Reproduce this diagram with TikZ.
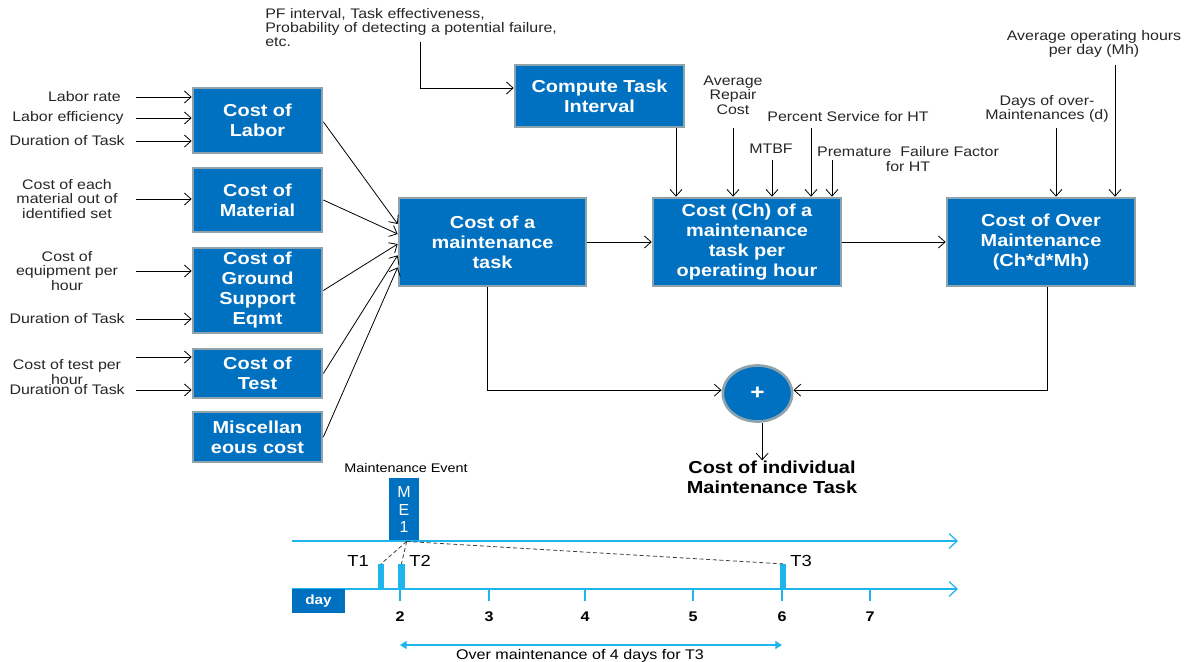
\documentclass[tikz,border=0pt]{standalone}
\usepackage{fontspec}
\setmainfont[FakeStretch=1.15]{Liberation Sans}
\newfontfamily\narrowfont{Liberation Sans}
\usetikzlibrary{arrows.meta,shapes.geometric}
\definecolor{boxblue}{HTML}{0070C0}
\definecolor{boxedge}{HTML}{8FA3AD}
\definecolor{axisblue}{HTML}{1EB4EC}
\definecolor{txtgray}{HTML}{262626}
\begin{document}
\begin{tikzpicture}[x=0.75pt,y=-0.75pt,
  bx/.style={draw=boxedge,line width=2pt,fill=boxblue,text=white,
    font=\fontsize{13}{15}\selectfont\bfseries,align=center,inner sep=0pt,
    minimum width=96.75pt},
  lbl/.style={font=\fontsize{10.4}{11}\selectfont,align=center,inner sep=0pt,text=txtgray},
  arr/.style={-{Straight Barb[length=5pt,width=9pt]},line width=0.6pt},
  ax/.style={-{Straight Barb[length=6pt,width=11pt]},draw=axisblue,line width=0.9pt},
  tbar/.style={fill=axisblue,inner sep=0pt,minimum width=4.6pt,minimum height=18.5pt},
  tick/.style={draw=axisblue,line width=0.8pt},
  tlbl/.style={font=\fontsize{12}{14}\selectfont,inner sep=0pt},
  num/.style={font=\fontsize{10.5}{12}\selectfont\bfseries,inner sep=0pt},
  dsh/.style={densely dashed,line width=0.6pt,draw=black!75}
]
\useasboundingbox (0,0) rectangle (1191,661);

% ---------- left boxes ----------
\node[bx,minimum height=48.75pt] (lab) at (257.5,120.5) {Cost of\\Labor};
\node[bx,minimum height=48pt] (mat) at (257.5,200) {Cost of\\Material};
\node[bx,minimum height=63.75pt] (gse) at (257.5,290.5) {Cost of\\Ground\\Support\\Eqmt};
\node[bx,minimum height=36.75pt] (tst) at (257.5,373.5) {Cost of\\Test};
\node[bx,minimum height=37.5pt] (misc) at (257.5,437) {Miscellan\\eous cost};

% ---------- main boxes ----------
\node[bx,minimum width=140.25pt,minimum height=66pt] (mt) at (492.5,242) {Cost of a\\maintenance\\task};
\node[bx,minimum width=126.75pt,minimum height=46.5pt] (comp) at (599.5,96) {Compute Task\\Interval};
\node[bx,minimum width=141pt,minimum height=66pt] (ch) at (747,242) {Cost (Ch) of a\\maintenance\\task per\\operating hour};
\node[bx,minimum width=141pt,minimum height=66pt] (over) at (1041,242) {Cost of Over\\Maintenance\\(Ch*d*Mh)};
\node[ellipse,draw=boxedge,line width=2pt,fill=boxblue,text=white,minimum width=52pt,minimum height=42pt,inner sep=0pt,
  font=\fontsize{16}{16}\selectfont\bfseries] (plus) at (757.5,393.5) {+};
\node[font=\fontsize{13}{15}\selectfont\bfseries,align=center,inner sep=0pt] (res) at (772,477) {Cost of individual\\Maintenance Task};

% ---------- input labels ----------
\node[lbl,anchor=east] (l1) at (121,97) {Labor rate};
\node[lbl,anchor=east] (l2) at (124,118) {Labor efficiency};
\node[lbl,anchor=east] (l3) at (125,141) {Duration of Task};
\node[lbl] (l4) at (67,199) {Cost of each\\material out of\\identified set};
\node[lbl] (l5) at (67,271) {Cost of\\equipment per\\hour};
\node[lbl,anchor=east] (l6) at (125,319) {Duration of Task};
\node[lbl] (l7) at (67,372) {Cost of test per\\hour};
\node[lbl,anchor=east] (l8) at (125,390) {Duration of Task};

\coordinate (s1) at (136,97);
\coordinate (s2) at (136,118);
\coordinate (s3) at (136,141);
\coordinate (s4) at (136,199);
\coordinate (s5) at (136,271);
\coordinate (s6) at (136,319);
\coordinate (s7) at (136,357);
\coordinate (s8) at (136,390);
\draw[arr] (s1) -- (s1 -| lab.west);
\draw[arr] (s2) -- (s2 -| lab.west);
\draw[arr] (s3) -- (s3 -| lab.west);
\draw[arr] (s4) -- (s4 -| mat.west);
\draw[arr] (s5) -- (s5 -| gse.west);
\draw[arr] (s6) -- (s6 -| gse.west);
\draw[arr] (s7) -- (s7 -| tst.west);
\draw[arr] (s8) -- (s8 -| tst.west);

% ---------- left boxes to maintenance task ----------
\draw[arr] ([yshift=-1pt]lab.east) -- ([yshift=13.5pt]mt.west);
\draw[arr] (mat.east) -- ([yshift=6pt]mt.west);
\draw[arr] (gse.east) -- ([yshift=-1.5pt]mt.west);
\draw[arr] (tst.east) -- ([yshift=-10pt]mt.west);
\draw[arr] (misc.east) -- ([yshift=-19pt]mt.west);

% ---------- top labels ----------
\node[lbl,align=left,anchor=north west,font=\fontsize{10.4}{10.5}\selectfont] (pf) at (265,8) {PF interval, Task effectiveness,\\Probability of detecting a potential failure,\\etc.};
\coordinate (pfs) at (420,42);
\draw[arr] (pfs) |- ([yshift=6pt]comp.west);

\node[lbl] (avg) at (733,95) {Average\\Repair\\Cost};
\node[lbl] (mtbf) at (771,149) {MTBF};
\node[lbl] (pct) at (848,117) {Percent Service for HT};
\node[lbl] (pff) at (908,159) {Premature\ \ Failure Factor\\for HT};
\node[lbl] (days) at (1047,109) {Days of over-\\Maintenances (d)};
\node[lbl] (aoh) at (1094,44) {Average operating hours\\per day (Mh)};

\coordinate (a1) at (733,128);
\coordinate (a2) at (772,160);
\coordinate (a3) at (811,128);
\coordinate (a4) at (832,160);
\coordinate (a5) at (1056,128);
\coordinate (a6) at (1115,65);
\draw[arr] ([xshift=-7pt]comp.south east) -- ([xshift=-7pt]comp.south east |- ch.north);
\draw[arr] (a1) -- (a1 |- ch.north);
\draw[arr] (a2) -- (a2 |- ch.north);
\draw[arr] (a3) -- (a3 |- ch.north);
\draw[arr] (a4) -- (a4 |- ch.north);
\draw[arr] (a5) -- (a5 |- over.north);
\draw[arr] (a6) -- (a6 |- over.north);

% ---------- main flow ----------
\draw[arr] (mt.east) -- (ch.west);
\draw[arr] (ch.east) -- (over.west);
\draw[arr] ([xshift=-3.5pt]mt.south) |- ([yshift=2.5pt]plus.west);
\draw[arr] ([xshift=4.5pt]over.south) |- ([yshift=2.5pt]plus.east);
\draw[arr] ([xshift=3.5pt]plus.south) -- ([xshift=3.5pt]plus.south |- res.north);

% ---------- timeline ----------
\node[font=\fontsize{9.4}{10}\selectfont,inner sep=0pt] (mev) at (406,468) {Maintenance Event};
\node[fill=boxblue,text=white,inner sep=0pt,minimum width=22.5pt,minimum height=47.5pt,align=center,
  font=\narrowfont\fontsize{12}{12.9}\selectfont] (me) at (404,509.5) {M\\E\\1};
\coordinate (ua0) at (292,541);
\coordinate (ua1) at (958,541);
\coordinate (la0) at (292,589);
\coordinate (la1) at (958,589);
\draw[ax] (ua0) -- (ua1);
\draw[ax] (la0) -- (la1);
\node[fill=boxblue,text=white,inner sep=0pt,minimum width=39.75pt,minimum height=18pt,
  font=\fontsize{10}{12}\selectfont\bfseries] (day) at (318.5,601) {day};

\foreach \x/\n in {400/2,489/3,585/4,693/5,782/6,870/7}{
  \coordinate (tk\n) at (\x,589);
  \draw[tick] (tk\n) -- ++(0,12);
  \node[num] (n\n) at (\x,617) {\n};
}
\node[tbar] (t1) at (381,576.5) {};
\node[tbar] (t2) at (401.5,576.5) {};
\node[tbar] (t3) at (783,576.5) {};
\node[tlbl] (t1l) at (358,561) {T1};
\node[tlbl] (t2l) at (420,561) {T2};
\node[tlbl] (t3l) at (801,561) {T3};
\draw[dsh] ([xshift=2pt]me.south) -- (t1.north);
\draw[dsh] ([xshift=2pt]me.south) -- (t2.north);
\draw[dsh] ([xshift=2pt]me.south) -- (t3.north);

\coordinate (d0) at (400,645);
\coordinate (d1) at (782,645);
\draw[{Triangle[length=5pt,width=6pt]}-{Triangle[length=5pt,width=6pt]},draw=axisblue,fill=axisblue,line width=0.9pt] (d0) -- (d1);
\node[font=\fontsize{10.5}{12}\selectfont,inner sep=0pt] (omt) at (580,656) {Over maintenance of 4 days for T3};
\end{tikzpicture}
\end{document}
